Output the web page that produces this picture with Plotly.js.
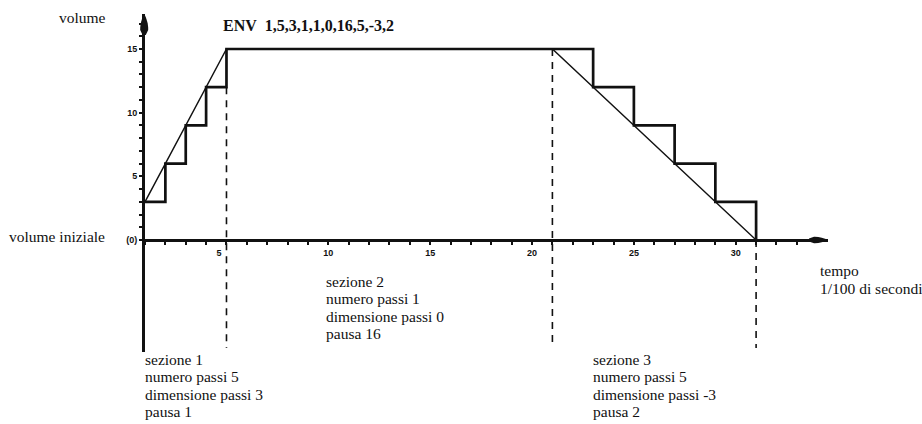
<!DOCTYPE html>
<html>
<head>
<meta charset="utf-8">
<script src="https://cdn.plot.ly/plotly-3.0.1.min.js"></script>
<style>html,body{margin:0;padding:0;background:#fff;}#chart{width:922px;height:424px;}</style>
</head>
<body>
<div id="chart"></div>
<script>
// ---- data ----
const stepTime   = [1, 2, 3, 4, 5, 23, 25, 27, 29, 31];
const stepVolume = [3, 6, 9, 12, 15, 12, 9, 6, 3, 0];
const rampTime   = [1, 5, 21, 31];
const rampVolume = [3, 15, 15, 0];
const sectionEnd       = [5, 21, 31];
const sectionEndVolume = [12, 15, 0];
const xTickValues = [5, 10, 15, 20, 25, 30];
const xTickLabels = ['5\u00a0\u00a0\u00a0\u00a0\u00a0\u00a0', '10', '15', '20', '25', '30'];
const yTickValues = [0, 5, 10, 15];
const yTickLabels = ['(0)', '5', '10', '15'];
const titleText = 'ENV&nbsp;&nbsp;1,5,3,1,1,0,16,5,-3,2';
const sectionNotes = [
  ['sezione 1', 'numero passi 5', 'dimensione passi 3', 'pausa 1'],
  ['sezione 2', 'numero passi 1', 'dimensione passi 0', 'pausa 16'],
  ['sezione 3', 'numero passi 5', 'dimensione passi -3', 'pausa 2']
];

// ---- layout geometry ----
const W = 922, H = 424;
const M = {l: 145, r: 94, t: 14, b: 72};
const plotW = W - M.l - M.r, plotH = H - M.t - M.b;
const pxPerX = 20.37, pxPerY = 12.733;
const axisY = 240;                      // pixel row of volume 0
const xRange = [1, 1 + plotW / pxPerX];
const yRange = [-(H - M.b - axisY) / pxPerY, (axisY - M.t) / pxPerY];
const dashBottom = -(348 - axisY) / pxPerY;
const px2x = p => (p - M.l) / plotW;
const py2y = p => (H - M.b - p) / plotH;
const INK = '#111';
const serif = 'Liberation Serif, Times New Roman, serif';
const sans = 'Liberation Sans, Arial, sans-serif';

// ticks
const xTicks = [], xTickText = [];
for (let v = 1; v <= 33; v++) {
  xTicks.push(v);
  const i = xTickValues.indexOf(v);
  xTickText.push(i >= 0 ? xTickLabels[i] : '');
}
const yTicks = [], yTickText = [];
for (let v = 0; v <= 17; v++) {
  yTicks.push(v);
  const i = yTickValues.indexOf(v);
  yTickText.push(i >= 0 ? yTickLabels[i] : '');
}

// dashed section boundaries
const dashX = [], dashY = [];
sectionEnd.forEach((t, i) => {
  dashX.push(t, t, null);
  dashY.push(sectionEndVolume[i], dashBottom, null);
});

const traces = [
  {x: dashX, y: dashY, mode: 'lines', line: {color: INK, width: 1.6, dash: '7px,6px'}, connectgaps: false, cliponaxis: false},
  {x: rampTime, y: rampVolume, mode: 'lines', line: {color: INK, width: 1.4}},
  {x: stepTime, y: stepVolume, mode: 'lines', line: {color: INK, width: 2.7, shape: 'hv'}}
];

// text annotations
const annotations = [];
function addText(text, xp, yp, size, extra) {
  annotations.push(Object.assign({
    text: text, xref: 'paper', yref: 'paper', x: px2x(xp), y: py2y(yp),
    xanchor: 'left', yanchor: 'middle', showarrow: false,
    font: {family: serif, size: size, color: INK}
  }, extra || {}));
}
addText('volume', 57, 17, 15.5);
addText('volume iniziale', 7, 237, 15.5);
addText('tempo', 818, 270, 15.5);
addText('1/100 di secondi', 818, 288, 15.5);
const notePos = [[143, 359], [324, 281], [591, 359]];
const lineGap = 17.6;
sectionNotes.forEach((lines, b) => {
  lines.forEach((s, k) => addText(s, notePos[b][0], notePos[b][1] + k * lineGap, 15.5));
});

// arrow heads (pixel-sized paths anchored at the axis ends, paper refs so not clipped)
const shapes = [
  {type: 'path', xref: 'paper', yref: 'paper', xsizemode: 'pixel', ysizemode: 'pixel',
   xanchor: 0, yanchor: 1,
   path: 'M-0.8,0 C1.4,-4 3.4,-10 3.2,-16 L0.8,-21 L-2.4,-21 L-4.8,-16 C-5,-10 -3,-4 -0.8,0 Z',
   fillcolor: INK, line: {width: 0}, layer: 'above'},
  {type: 'path', xref: 'paper', yref: 'y', xsizemode: 'pixel', ysizemode: 'pixel',
   xanchor: 1, yanchor: 0,
   path: 'M0,0 C-4,1.6 -9,3.4 -14,3.2 L-19,1.4 L-19,-1.4 L-14,-3.2 C-9,-3.4 -4,-1.6 0,0 Z',
   fillcolor: INK, line: {width: 0}, layer: 'above'}
];

const layout = {
  width: W, height: H,
  margin: M,
  paper_bgcolor: '#fff', plot_bgcolor: '#fff',
  showlegend: false, hovermode: false,
  title: {text: titleText, xref: 'container', yref: 'container', x: 223 / W, xanchor: 'left',
          y: 1 - 25 / H, yanchor: 'middle',
          font: {family: serif, size: 16, color: INK, weight: 'bold'}},
  xaxis: {range: xRange, anchor: 'free', position: -yRange[0] / (yRange[1] - yRange[0]),
          showline: true, linewidth: 3, linecolor: INK, showgrid: false, zeroline: false,
          ticks: 'outside', ticklen: 3, tickwidth: 2, tickcolor: INK,
          tickmode: 'array', tickvals: xTicks, ticktext: xTickText,
          tickfont: {family: sans, size: 9, color: INK, weight: 'bold'}, fixedrange: true},
  yaxis: {range: yRange, showline: true, linewidth: 3, linecolor: INK, showgrid: false, zeroline: false,
          ticks: 'outside', ticklen: 3, tickwidth: 2, tickcolor: INK,
          tickmode: 'array', tickvals: yTicks, ticktext: yTickText,
          tickfont: {family: sans, size: 9, color: INK, weight: 'bold'}, fixedrange: true},
  annotations: annotations,
  shapes: shapes
};

Plotly.newPlot('chart', traces, layout, {staticPlot: true, displayModeBar: false});
</script>
</body>
</html>
